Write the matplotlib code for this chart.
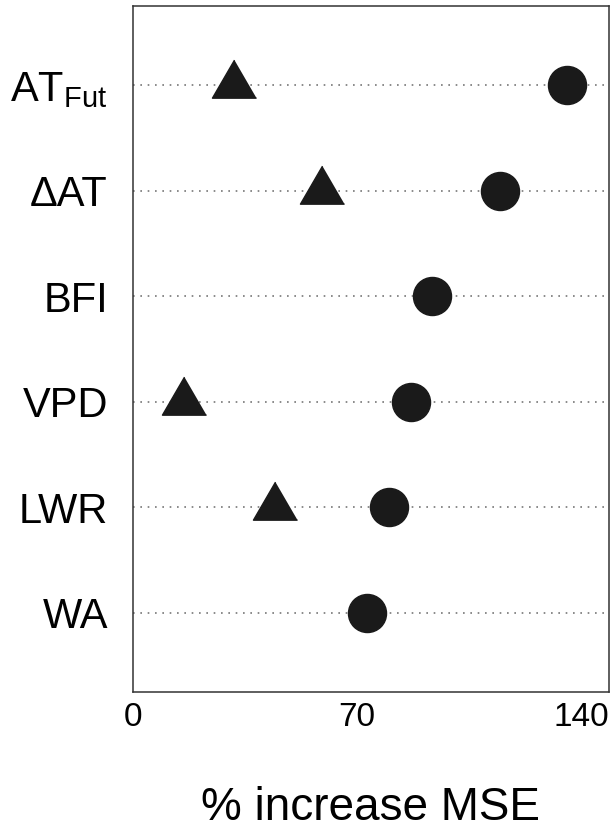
import matplotlib
matplotlib.use("Agg")
import matplotlib.pyplot as plt

plt.rcParams['font.family'] = ['Liberation Sans', 'DejaVu Sans']
plt.rcParams['mathtext.fontset'] = 'custom'
plt.rcParams['mathtext.rm'] = 'Liberation Sans'
plt.rcParams['mathtext.it'] = 'Liberation Sans'

# variables, bottom to top
labels = ['WA', 'LWR', 'VPD', 'BFI', '\u0394AT', r'$\mathrm{AT}_{\mathrm{Fut}}$']
circle_vals = [73, 80, 87, 93.5, 114.5, 135.5]
# triangles (None where no triangle)
tri_vals = [None, 44.5, 16, None, 59, 31.5]
xticks = [0, 70, 140]

fig = plt.figure(figsize=(6.12, 8.31), dpi=100)
left, right, bottom, top = 0.2173, 0.9951, 0.1673, 0.9928
ax = fig.add_axes([left, bottom, right - left, top - bottom])

ypos = list(range(1, len(labels) + 1))
for y in ypos:
    ax.axhline(y, color='#777777', lw=1.2, ls=(0, (1, 3.4)), zorder=1)

# triangle with its centroid on the line
tri_marker = [(0, 2), (-1.74, -1), (1.74, -1)]
ty = [y for y, v in zip(ypos, tri_vals) if v is not None]
tx = [v for v in tri_vals if v is not None]
ax.plot(tx, ty, ls='none', marker=tri_marker, ms=36.5, color='#1a1a1a', zorder=3)
ax.plot(circle_vals, ypos, ls='none', marker='o', ms=27.4, color='#1a1a1a', zorder=3)

ax.set_xlim(0, 148.7)
ax.set_ylim(0.25, 6.75)
ax.set_xticks(xticks)
ax.set_yticks(ypos)
ax.set_yticklabels(labels)
ax.tick_params(axis='both', length=0)
ax.tick_params(axis='y', pad=18, labelsize=30)
ax.tick_params(axis='x', pad=7, labelsize=24)

fig.text((left + right) / 2, 10.5 / 831, '% increase MSE', fontsize=33,
         ha='center', va='baseline')

for s in ax.spines.values():
    s.set_color('#333333')
    s.set_linewidth(1.1)

fig.savefig('out.png', dpi=100)
